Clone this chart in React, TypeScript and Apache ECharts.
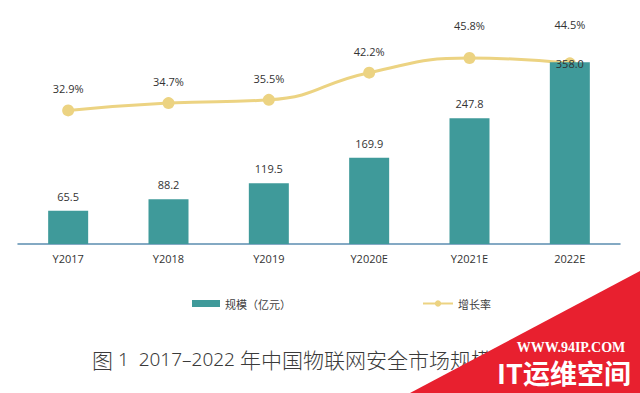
import React, { useEffect, useRef } from "react";
import * as echarts from "echarts";

const categories = ["Y2017", "Y2018", "Y2019", "Y2020E", "Y2021E", "2022E"];
const scaleValues = [65.5, 88.2, 119.5, 169.9, 247.8, 358.0];
const growthValues = [32.9, 34.7, 35.5, 42.2, 45.8, 44.5];
const barName = "规模（亿元）";
const lineName = "增长率";
const captionPrefix = "图";
const captionNumber = " 1  2017–2022 ";
const captionTitle = "年中国物联网安全市场规模及增长率";

export default function App() {
  const ref = useRef<HTMLDivElement>(null);
  useEffect(() => {
    if (!ref.current) return;
    const chart = echarts.init(ref.current, null, { renderer: "svg" });
    const lineLabelDistance = [10, 10, 10, 10, 21, 27];
    const barLabelDistance = [9, 9, 9, 9, 9, -7];
    chart.setOption({
      animation: false,
      backgroundColor: "#ffffff",
      grid: { left: 18, right: 20, top: 41, bottom: 149, containLabel: false },
      legend: [
        {
          data: [barName],
          left: 187,
          top: 293,
          itemWidth: 28,
          itemHeight: 7,
          icon: "rect",
          textStyle: { fontSize: 11, color: "#404040", fontFamily: "Noto Sans CJK SC" },
        },
        {
          data: [lineName],
          left: 417,
          top: 293,
          itemWidth: 30,
          itemHeight: 8,
          textStyle: { fontSize: 11, color: "#404040", fontFamily: "Noto Sans CJK SC" },
        },
      ],
      xAxis: {
        type: "category",
        data: categories,
        axisLine: { lineStyle: { color: "#5b8db0", width: 1.5 } },
        axisTick: { show: false },
        axisLabel: { color: "#333333", fontSize: 11, fontFamily: "Open Sans", margin: 9 },
      },
      yAxis: [
        { type: "value", min: 0, max: 400, show: false, splitLine: { show: false } },
        { type: "value", min: 0, max: 50, show: false, splitLine: { show: false } },
      ],
      series: [
        {
          name: barName,
          type: "bar",
          data: scaleValues.map((v, i) => ({ value: v, label: { distance: barLabelDistance[i] } })),
          barWidth: 40,
          itemStyle: { color: "#3f9a9a" },
          z: 3,
          label: {
            show: true,
            position: "top",
            color: "#333333",
            fontSize: 11,
            fontFamily: "Open Sans",
            formatter: (p: any) => Number(p.value).toFixed(1),
          },
        },
        {
          name: lineName,
          type: "line",
          yAxisIndex: 1,
          data: growthValues.map((v, i) => ({ value: v, label: { distance: lineLabelDistance[i] } })),
          smooth: true,
          symbol: "circle",
          symbolSize: 12,
          z: 2,
          lineStyle: { color: "#ecd382", width: 3 },
          itemStyle: { color: "#ecd382" },
          label: {
            show: true,
            position: "top",
            color: "#333333",
            fontSize: 11,
            fontFamily: "Open Sans",
            formatter: (p: any) => Number(p.value).toFixed(1) + "%",
          },
        },
      ],
      graphic: [
        {
          type: "text",
          left: 92,
          top: 348,
          style: {
            text: "{a|" + captionPrefix + "}{b|" + captionNumber + "}{a|" + captionTitle + "}",
            rich: {
              a: { fontSize: 21, fill: "#3a3a3a", color: "#3a3a3a", fontFamily: "Noto Sans CJK SC", fontWeight: 300 },
              b: { fontSize: 19, fill: "#3a3a3a", color: "#3a3a3a", fontFamily: "Noto Sans", fontWeight: 300 },
            },
          },
        },
        {
          type: "polygon",
          shape: { points: [[410, 393], [640, 271], [640, 393]] },
          style: { fill: "#e8202f" },
        },
        {
          type: "text",
          x: 571,
          y: 347,
          style: {
            text: "WWW.94IP.COM",
            fontSize: 14,
            fontWeight: "bold",
            fill: "#ffffff",
            fontFamily: "Liberation Serif",
            align: "center",
            verticalAlign: "middle",
          },
        },
        {
          type: "text",
          x: 564,
          y: 372,
          style: {
            text: "IT运维空间",
            fontSize: 27,
            fontWeight: "bold",
            fill: "#ffffff",
            fontFamily: "Noto Sans CJK SC",
            align: "center",
            verticalAlign: "middle",
          },
        },
      ],
    });
    return () => chart.dispose();
  }, []);
  return <div ref={ref} style={{ width: 640, height: 393, position: "absolute", left: 0, top: 0 }} />;
}
